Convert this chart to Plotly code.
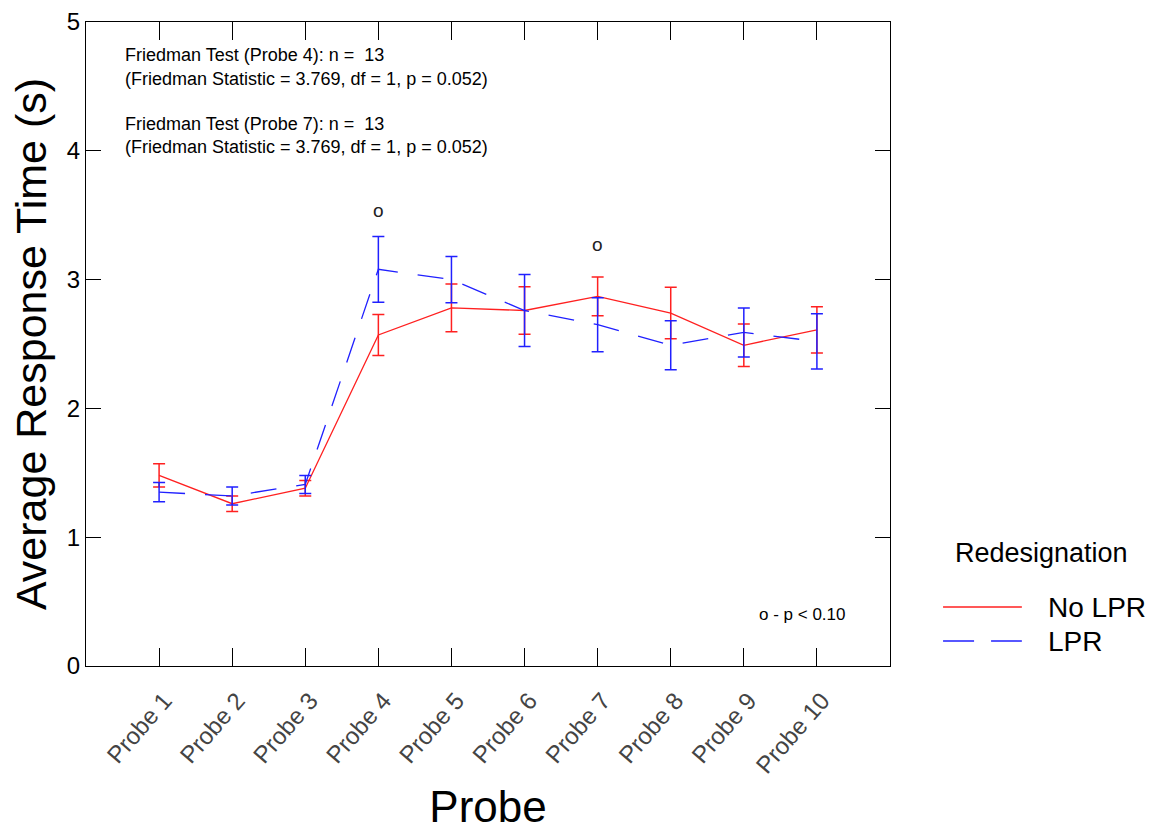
import plotly.graph_objects as go

probes = [f"Probe {i}" for i in range(1, 11)]
x_pos = list(range(1, 11))

no_lpr_mean = [1.48, 1.26, 1.38, 2.57, 2.78, 2.76, 2.87, 2.74, 2.49, 2.61]
no_lpr_err = [0.09, 0.06, 0.06, 0.16, 0.185, 0.185, 0.15, 0.20, 0.165, 0.18]
lpr_mean = [1.35, 1.32, 1.41, 3.08, 3.00, 2.76, 2.65, 2.49, 2.59, 2.52]
lpr_err = [0.075, 0.07, 0.07, 0.255, 0.18, 0.28, 0.21, 0.19, 0.19, 0.215]

y_ticks = [0, 1, 2, 3, 4, 5]
sig_probes = [4, 7]
sig_y = [3.54, 3.27]

RED = "#ff2020"
BLUE = "#2020ff"
FONT = "Liberation Sans, Arial, sans-serif"

fig = go.Figure()
fig.add_trace(go.Scatter(
    x=x_pos, y=no_lpr_mean, mode="lines", name="No LPR", showlegend=False,
    line=dict(color=RED, width=1.3),
    error_y=dict(type="data", array=no_lpr_err, color=RED, thickness=1.5, width=6),
))
fig.add_trace(go.Scatter(
    x=x_pos, y=lpr_mean, mode="lines", name="LPR", showlegend=False,
    line=dict(color=BLUE, width=1.3, dash="26px,20px"),
    error_y=dict(type="data", array=lpr_err, color=BLUE, thickness=1.5, width=6),
))

# significance markers
for p, yv in zip(sig_probes, sig_y):
    fig.add_annotation(x=p, y=yv, text="o", showarrow=False,
                       font=dict(size=19, color="#222", family=FONT))

lines = [
    ("Friedman Test (Probe 4): n =  13", 4.74),
    ("(Friedman Statistic = 3.769, df = 1, p = 0.052)", 4.56),
    ("Friedman Test (Probe 7): n =  13", 4.21),
    ("(Friedman Statistic = 3.769, df = 1, p = 0.052)", 4.03),
]
for t, yv in lines:
    fig.add_annotation(x=0.5, y=yv, xref="x", yref="y", text=t, showarrow=False,
                       xanchor="left", yanchor="middle",
                       font=dict(size=18, color="black", family=FONT))
fig.add_annotation(x=9.79, y=0.40, xref="x", yref="y", text="o - p < 0.10", showarrow=False,
                   xanchor="center", yanchor="middle",
                   font=dict(size=17, color="black", family=FONT))

# manual legend
fig.add_annotation(x=1.188, y=0.1755, xref="paper", yref="paper", text="Redesignation",
                   showarrow=False, xanchor="center", yanchor="middle",
                   font=dict(size=27, color="black", family=FONT))
legend_items = [("No LPR", RED, "solid", 0.0916), ("LPR", BLUE, "31px,17px", 0.0388)]
for name, col, dash, yp in legend_items:
    fig.add_shape(type="line", xref="paper", yref="paper", x0=1.066, x1=1.164, y0=yp, y1=yp,
                  line=dict(color=col, width=1.5, dash=dash))
    fig.add_annotation(x=1.194, y=yp, xref="paper", yref="paper", text=name, showarrow=False,
                       xanchor="left", yanchor="middle",
                       font=dict(size=28, color="black", family=FONT))

fig.update_layout(
    width=1153, height=831,
    margin=dict(l=86, r=263, t=22, b=165, autoexpand=False),
    plot_bgcolor="white", paper_bgcolor="white",
    font=dict(family=FONT, color="black"),
    showlegend=False,
    xaxis=dict(
        range=[0, 11], tickvals=x_pos, ticktext=probes, tickangle=-49,
        ticks="inside", ticklen=18, tickcolor="black", tickwidth=1,
        showline=True, linecolor="black", linewidth=1, mirror="ticks",
        showgrid=False, zeroline=False, automargin=False,
        ticklabelshift=5, ticklabelstandoff=10,
        tickfont=dict(size=24, color="#444"),
        title=dict(text="Probe", font=dict(size=44), standoff=18),
    ),
    yaxis=dict(
        range=[0, 5], tickvals=y_ticks,
        ticks="inside", ticklen=15, tickcolor="black", tickwidth=1,
        showline=True, linecolor="black", linewidth=1, mirror="ticks",
        showgrid=False, zeroline=False, automargin=False,
        tickfont=dict(size=24),
        title=dict(text="Average Response Time (s)", font=dict(size=43), standoff=6),
    ),
)

fig.write_html("out.html")
